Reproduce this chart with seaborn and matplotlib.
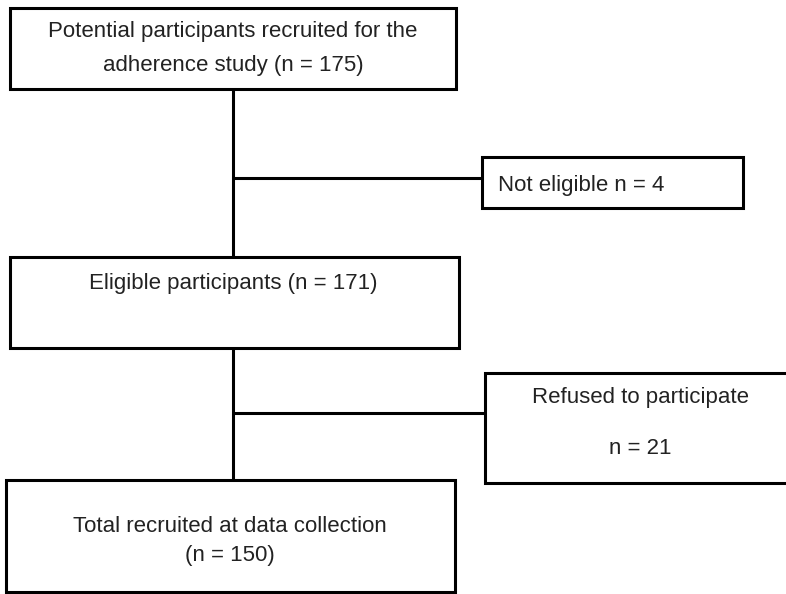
import matplotlib
matplotlib.use("Agg")
import matplotlib.pyplot as plt
import pandas as pd
import seaborn as sns
from matplotlib.patches import Rectangle

sns.set_theme(style="white")
plt.rcParams["font.family"] = ["Liberation Sans", "DejaVu Sans"]

# flow chart content
stages = [
    "Potential participants recruited for the\nadherence study (n = {})",
    "Not eligible n = {}",
    "Eligible participants (n = {})",
    "Refused to participate\n\nn = {}",
    "Total recruited at data collection\n(n = {})",
]
counts = [175, 4, 171, 21, 150]

# layout in pixel coords (x0, y0, x1, y1), text anchor, alignment, line step
boxes = [
    (10, 8, 456, 89),
    (482, 157, 743, 208),
    (10, 257, 459, 348),
    (485, 373, 800, 483),
    (6, 480, 455, 592),
]
anchors = [(233, 32), (498, 185), (233, 284), (640, 398), (230, 527)]
aligns = ["center", "left", "center", "center", "center"]
line_steps = [33, 0, 0, 25, 28]

connectors = [
    ([233, 233], [89, 257]),
    ([233, 482], [178, 178]),
    ([233, 233], [348, 480]),
    ([233, 485], [413, 413]),
]

LW = 2.2
FS = 16
TXT = "#222222"

fig = plt.figure(figsize=(7.86, 5.94), dpi=100)
ax = fig.add_axes([0, 0, 1, 1])

for xs, ys in connectors:
    seg = pd.DataFrame({"x": xs, "y": ys})
    sns.lineplot(data=seg, x="x", y="y", color="black", linewidth=LW,
                 sort=False, estimator=None, ax=ax)

for label, n, (x0, y0, x1, y1), (tx, ty), ha, step in zip(
        stages, counts, boxes, anchors, aligns, line_steps):
    ax.add_patch(Rectangle((x0, y0), x1 - x0, y1 - y0, facecolor="white",
                           edgecolor="black", linewidth=LW, zorder=3,
                           clip_on=False))
    lines = label.format(n).split("\n")
    for k, line in enumerate(lines):
        if not line:
            continue
        ax.text(tx, ty + k * step, line, ha=ha, va="center", fontsize=FS,
                color=TXT, zorder=4)

ax.set_xlim(0, 786)
ax.set_ylim(594, 0)
ax.axis("off")
fig.savefig("out.png", dpi=100, facecolor="white")
